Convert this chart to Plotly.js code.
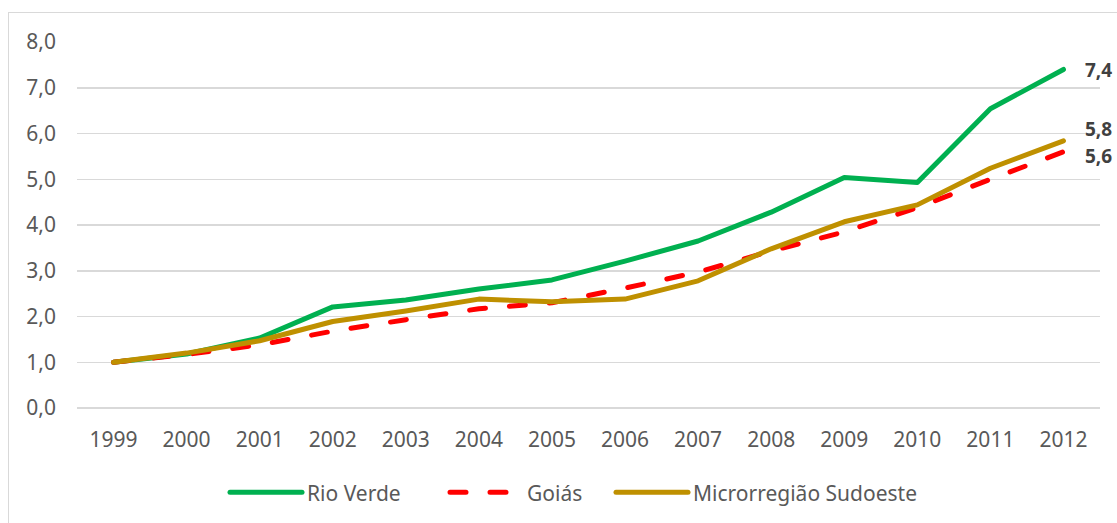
<!DOCTYPE html>
<html><head><meta charset="utf-8">
<script src="https://cdn.plot.ly/plotly-3.0.1.min.js"></script>
<style>html,body{margin:0;padding:0;background:#fff}#wrap{position:relative;width:1117px;height:523px;overflow:hidden}#chart{width:1117px;height:523px}#frame{position:absolute;left:8px;top:12px;width:1130px;height:530px;border:1px solid #d9d9d9;pointer-events:none}</style>
</head><body>
<div id="wrap"><div id="chart"></div><div id="frame"></div></div>
<script>
const years = ['1999','2000','2001','2002','2003','2004','2005','2006','2007','2008','2009','2010','2011','2012'];
const rioVerde = [1.0,1.18,1.53,2.21,2.36,2.6,2.8,3.21,3.65,4.28,5.04,4.93,6.54,7.4];
const goias = [1.0,1.17,1.38,1.68,1.93,2.17,2.3,2.62,2.97,3.43,3.85,4.38,5.0,5.6];
const micro = [1.0,1.2,1.47,1.89,2.12,2.38,2.32,2.38,2.78,3.48,4.07,4.44,5.24,5.84];
const names = ['Rio Verde','Goiás','Microrregião Sudoeste'];
const font = "'Noto Sans', 'Open Sans', sans-serif";
const traces = [
  {x: years, y: rioVerde, name: names[0], mode:'lines', line:{color:'#00B050', width:5}},
  {x: years, y: goias, name: names[1], mode:'lines', line:{color:'#FF0000', width:5, dash:'16px,24px'}},
  {x: years, y: micro, name: names[2], mode:'lines', line:{color:'#BF9000', width:5}}
];
const fmt = v => v.toFixed(1).replace('.', ',');
const last = years.length - 1;
const annShift = [-1, -4, 12];
const annotations = [rioVerde, goias, micro].map((s, i) => ({
  xref:'x', yref:'y', x: last, y: s[last], text: '<b>' + fmt(s[last]) + '</b>', showarrow:false,
  xanchor:'left', yanchor:'middle', xshift: 20, yshift: annShift[i], font:{family:font, size:19, color:'#404040'}
}));
const layout = {
  width:1117, height:523,
  margin:{l:77, r:17, t:42, b:115},
  paper_bgcolor:'#fff', plot_bgcolor:'#fff',
  font:{family:font, size:21, color:'#595959'},
  separators:',.',
  showlegend:true,
  legend:{orientation:'h', x:0.5, xanchor:'center', yref:'container', y:0.058, yanchor:'middle', font:{family:font, size:21, color:'#595959'}, traceorder:'normal'},
  xaxis:{type:'category', range:[-0.5, 13.5], automargin:false, showgrid:false, showline:false, zeroline:false, ticks:'', ticklabelstandoff:17, tickfont:{family:font, size:21, color:'#595959'}, fixedrange:true},
  yaxis:{range:[0,8], dtick:1, tickformat:'.1f', automargin:false, showgrid:true, gridcolor:'#d9d9d9', gridwidth:1.5, zeroline:true, zerolinecolor:'#d9d9d9', zerolinewidth:1.5, showline:false, ticks:'', ticklabelstandoff:20, tickfont:{family:font, size:21, color:'#595959'}, fixedrange:true},
  annotations: annotations
};
const legendTextStart = [307, 527, 693];
Plotly.newPlot('chart', traces, layout, {displayModeBar:false, staticPlot:true}).then(() => {
  document.querySelectorAll('.scatterlayer path.js-line').forEach(p => { p.style.strokeLinecap = 'round'; p.style.strokeLinejoin = 'round'; });
  document.querySelectorAll('.legend [clip-path], .legend').forEach(el => el.removeAttribute('clip-path'));
  const items = document.querySelectorAll('.legend .traces');
  items.forEach((g, i) => {
    const lp = g.querySelector('.legendlines path');
    if (lp) { lp.setAttribute('d', 'M-37,0h72'); lp.style.strokeLinecap = 'round'; }
    const t = g.querySelector('text');
    if (t && legendTextStart[i] !== undefined) {
      const dx = legendTextStart[i] - t.getBoundingClientRect().left;
      const m = /translate\(([-\d.]+)[ ,]*([-\d.]*)\)/.exec(g.getAttribute('transform') || '');
      const x0 = m ? parseFloat(m[1]) : 0, y0 = m && m[2] ? parseFloat(m[2]) : 0;
      g.setAttribute('transform', 'translate(' + (x0 + dx) + ',' + y0 + ')');
    }
  });
});
</script>
</body></html>
